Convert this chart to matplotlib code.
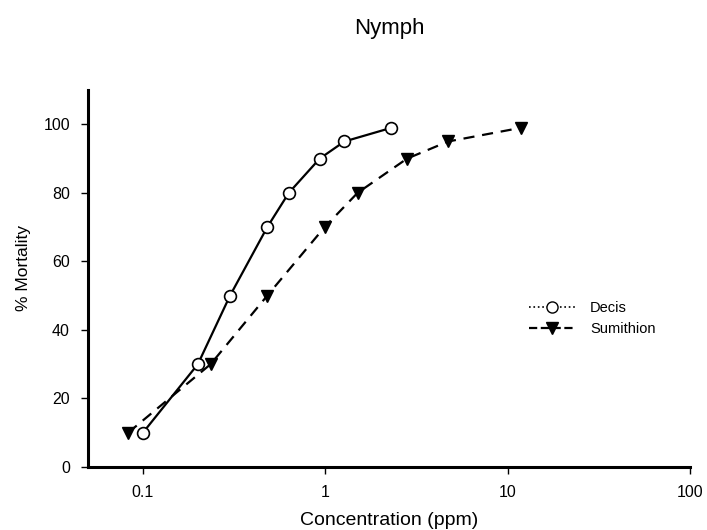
import matplotlib
matplotlib.use("Agg")
import matplotlib.pyplot as plt
from matplotlib.lines import Line2D

decis_x = [0.1, 0.2, 0.30, 0.48, 0.63, 0.93, 1.27, 2.3]
decis_y = [10, 30, 50, 70, 80, 90, 95, 99]
sumi_x = [0.083, 0.235, 0.48, 0.99, 1.5, 2.8, 4.7, 11.8]
sumi_y = [10, 30, 50, 70, 80, 90, 95, 99]
xticks = [0.1, 1, 10, 100]
xticklabels = ["0.1", "1", "10", "100"]
yticks = [0, 20, 40, 60, 80, 100]

plt.rcParams['font.family'] = ['Liberation Sans', 'DejaVu Sans']

fig = plt.figure(figsize=(7.07, 5.30), dpi=100)
ax = fig.add_axes([0.1245, 0.119, 0.852, 0.711])

ax.plot(decis_x, decis_y, '-', color='black', lw=1.6, marker='o', ms=8.5,
        markerfacecolor='white', markeredgecolor='black', markeredgewidth=1.2, zorder=3)
ax.plot(sumi_x, sumi_y, '--', color='black', lw=1.6, dashes=(5, 3.5), marker='v', ms=8,
        markerfacecolor='black', markeredgecolor='black', zorder=3)

ax.set_xscale('log')
ax.set_xlim(0.05, 100)
ax.set_ylim(0, 110)
ax.set_xticks(xticks)
ax.set_xticklabels(xticklabels)
ax.minorticks_off()
ax.set_yticks(yticks)
ax.tick_params(direction='out', length=5, width=1, labelsize=11.5, pad=8)

for s in ['top', 'right']:
    ax.spines[s].set_visible(False)
for s in ['left', 'bottom']:
    ax.spines[s].set_linewidth(2.2)

ax.set_xlabel('Concentration (ppm)', fontsize=14)
ax.xaxis.set_label_coords(0.5, -0.12)
ax.set_ylabel('% Mortality', fontsize=12.5)
ax.yaxis.set_label_coords(-0.095, 0.528)
fig.text(0.551, 0.947, 'Nymph', ha='center', va='center', fontsize=16)

handles = [
    Line2D([0], [0], color='black', ls=':', lw=1.2, marker='o', ms=8,
           markerfacecolor='white', markeredgecolor='black'),
    Line2D([0], [0], color='black', ls='--', lw=1.6, marker='v', ms=8,
           markerfacecolor='black', markeredgecolor='black'),
]
ax.legend(handles, ['Decis', 'Sumithion'], loc='center left',
          bbox_to_anchor=(0.71, 0.393), frameon=False, fontsize=10.5,
          handlelength=3.2, handletextpad=1.0, labelspacing=0.5)

fig.savefig('out.png', dpi=100)
